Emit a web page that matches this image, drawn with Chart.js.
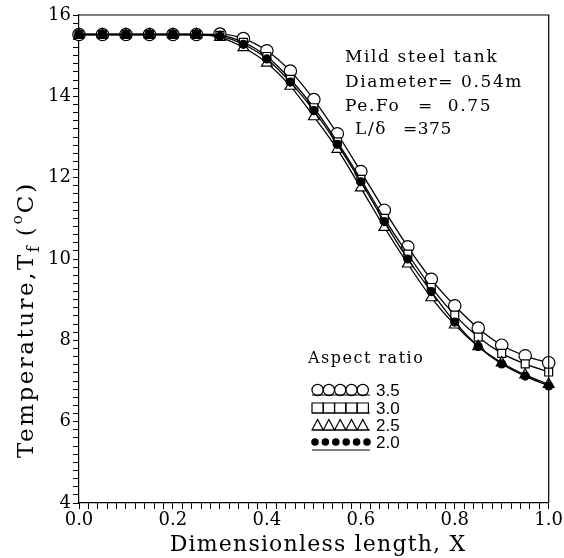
<!DOCTYPE html>
<html>
<head>
<meta charset="utf-8">
<script src="https://cdn.jsdelivr.net/npm/chart.js@4/dist/chart.umd.min.js"></script>
<style>
  html, body { margin: 0; padding: 0; background: #fff; }
  #wrap { width: 564px; height: 558px; }
</style>
</head>
<body>
<div id="wrap"><canvas id="tankChart" width="564" height="558"></canvas></div>
<script>
// dimensionless length X
const xs = [0, 0.05, 0.1, 0.15, 0.2, 0.25, 0.3, 0.35, 0.4, 0.45, 0.5,
            0.55, 0.6, 0.65, 0.7, 0.75, 0.8, 0.85, 0.9, 0.95, 1.0];

// fluid temperature for each aspect ratio
const ar35 = [15.52, 15.52, 15.52, 15.52, 15.52, 15.52, 15.53, 15.42, 15.12, 14.62, 13.92,
              13.08, 12.15, 11.2, 10.3, 9.5, 8.85, 8.3, 7.88, 7.62, 7.45];
const ar30 = [15.52, 15.52, 15.52, 15.52, 15.52, 15.52, 15.5, 15.33, 14.98, 14.42, 13.72,
              12.88, 11.96, 11.0, 10.12, 9.3, 8.62, 8.08, 7.68, 7.42, 7.22];
const ar25 = [15.52, 15.52, 15.52, 15.52, 15.52, 15.52, 15.45, 15.2, 14.82, 14.25, 13.5,
              12.7, 11.75, 10.78, 9.88, 9.05, 8.38, 7.85, 7.45, 7.15, 6.92];
const ar20 = [15.52, 15.52, 15.52, 15.52, 15.52, 15.52, 15.48, 15.28, 14.92, 14.35, 13.65,
              12.82, 11.9, 10.92, 10.0, 9.2, 8.45, 7.85, 7.42, 7.12, 6.88];

const legendLabels = ['3.5', '3.0', '2.5', '2.0'];
const notes = ['Mild steel tank', 'Diameter= 0.54m'];

const SERIF = '"DejaVu Serif", serif';

function pts(ys) {
    return xs.map((x, i) => ({ x: x, y: ys[i] }));
}

function series(ys, style, radius, fill, order) {
    return {
        data: pts(ys),
        showLine: true,
        borderColor: '#000',
        borderWidth: 1.3,
        cubicInterpolationMode: 'monotone',
        pointStyle: style,
        pointRadius: radius,
        pointBackgroundColor: fill,
        pointBorderColor: '#000',
        pointBorderWidth: 1.2,
        clip: false,
        order: order
    };
}

function text(ctx, str, x, y, font, spacing) {
    ctx.font = font;
    ctx.letterSpacing = (spacing || 0) + 'px';
    ctx.fillText(str, x, y);
    const w = ctx.measureText(str).width;
    ctx.letterSpacing = '0px';
    return w;
}

// marker shapes for the hand drawn key
function marker(ctx, kind, x, y) {
    ctx.beginPath();
    if (kind === 'circle') {
        ctx.arc(x, y, 5.6, 0, Math.PI * 2);
        ctx.stroke();
    } else if (kind === 'rect') {
        ctx.rect(x - 5.6, y - 5, 11.2, 10);
        ctx.stroke();
    } else if (kind === 'triangle') {
        ctx.moveTo(x - 5.6, y + 5);
        ctx.lineTo(x, y - 5.5);
        ctx.lineTo(x + 5.6, y + 5);
        ctx.closePath();
        ctx.stroke();
    } else {
        ctx.arc(x, y, 3.8, 0, Math.PI * 2);
        ctx.fill();
    }
}

const decor = {
    id: 'decor',
    afterDraw(chart) {
        const ctx = chart.ctx;
        const a = chart.chartArea;
        ctx.save();
        ctx.strokeStyle = '#000';
        ctx.fillStyle = '#000';
        ctx.lineWidth = 1.2;

        // frame top and right
        ctx.beginPath();
        ctx.moveTo(a.left, a.top);
        ctx.lineTo(a.right, a.top);
        ctx.lineTo(a.right, a.bottom);
        ctx.stroke();

        // x title
        ctx.textAlign = 'center';
        ctx.textBaseline = 'alphabetic';
        text(ctx, 'Dimensionless length, X', 318, 551, '22px ' + SERIF, 1.2);

        // y title, rotated, with subscript and superscript
        ctx.save();
        ctx.translate(33, 458);
        ctx.rotate(-Math.PI / 2);
        ctx.textAlign = 'left';
        let p = 0;
        p += text(ctx, 'Temperature,T', p, 0, '23px ' + SERIF, 2.5);
        p += text(ctx, 'f', p, 6, '16px ' + SERIF, 0) + 10;
        p += text(ctx, '(', p, 0, '23px ' + SERIF, 3);
        p += text(ctx, 'o', p, -11, '15px ' + SERIF, 0) + 2;
        text(ctx, 'C)', p, 0, '23px ' + SERIF, 3);
        ctx.restore();

        // notes
        ctx.textAlign = 'left';
        const nf = '17px ' + SERIF;
        text(ctx, notes[0], 345, 62, nf, 1.6);
        text(ctx, notes[1], 345, 87, nf, 1.6);
        text(ctx, 'Pe.Fo', 345, 111, nf, 1.6);
        text(ctx, '=  0.75', 418, 111, nf, 1.6);
        text(ctx, 'L/\u03B4', 355, 134, nf, 1.6);
        text(ctx, '=375', 403, 134, nf, 0.5);

        // key
        text(ctx, 'Aspect ratio', 308, 363, '16px ' + SERIF, 1.5);
        const kinds = ['circle', 'rect', 'triangle', 'dot'];
        const rowY = [390, 408, 425, 442];
        kinds.forEach((k, r) => {
            const y = rowY[r];
            const n = k === 'dot' ? 6 : 5;
            const step = k === 'dot' ? 10.4 : 11.3;
            const x0 = k === 'dot' ? 315 : 317.6;
            for (let i = 0; i < n; i++) marker(ctx, k, x0 + i * step, y);
            ctx.beginPath();
            const ly = k === 'dot' ? y + 8 : y + 5;
            ctx.moveTo(312, ly);
            ctx.lineTo(370, ly);
            ctx.stroke();
            ctx.textBaseline = 'middle';
            text(ctx, legendLabels[r], 376, y + 1, '17px "Liberation Sans", sans-serif', 0);
            ctx.textBaseline = 'alphabetic';
        });
        ctx.restore();
    }
};

const nearly = (v, step) => Math.abs(v / step - Math.round(v / step)) < 1e-6;

new Chart(document.getElementById('tankChart'), {
    type: 'scatter',
    data: {
        datasets: [
            series(ar35, 'circle', 6.2, '#fff', 4),
            series(ar30, 'rect', 5.6, '#fff', 3),
            series(ar25, 'triangle', 6.2, '#fff', 2),
            series(ar20, 'circle', 4, '#000', 1)
        ]
    },
    options: {
        responsive: false,
        animation: false,
        layout: { padding: { top: 15, right: 6, left: 0, bottom: 0 } },
        scales: {
            x: {
                type: 'linear',
                min: 0,
                max: 1,
                afterFit(s) { s.height = 55; },
                border: { color: '#000', width: 1.2 },
                grid: { drawOnChartArea: false, drawTicks: true, tickLength: 6, color: '#000', lineWidth: 1 },
                ticks: {
                    stepSize: 0.02,
                    autoSkip: false,
                    maxTicksLimit: 100,
                    maxRotation: 0,
                    padding: 1,
                    color: '#000',
                    font: { family: 'DejaVu Serif', size: 18 },
                    callback: v => nearly(v, 0.2) ? v.toFixed(1) : ''
                }
            },
            y: {
                type: 'linear',
                min: 4,
                max: 16,
                afterFit(s) { s.width = 79; },
                border: { color: '#000', width: 1.2 },
                grid: { drawOnChartArea: false, drawTicks: true, tickLength: 6, color: '#000', lineWidth: 1 },
                ticks: {
                    stepSize: 0.2,
                    autoSkip: false,
                    maxTicksLimit: 100,
                    padding: 2,
                    color: '#000',
                    font: { family: 'DejaVu Serif', size: 18 },
                    callback: v => nearly(v, 2) ? String(Math.round(v)) : ''
                }
            }
        },
        plugins: {
            legend: { display: false },
            tooltip: { enabled: false }
        }
    },
    plugins: [decor]
});
</script>
</body>
</html>
